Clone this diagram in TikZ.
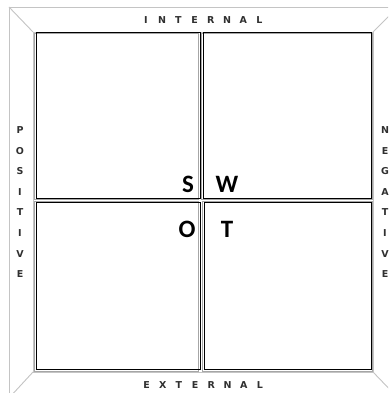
\documentclass[tikz,border=0pt]{standalone}
\usepackage{fontspec}
\newfontfamily\lblfont{DejaVu Sans}
\newfontfamily\swotfont{Carlito}
\definecolor{framegray}{HTML}{C4C4C4}
\definecolor{lblgray}{HTML}{303030}
\tikzset{
  frameline/.style={draw=framegray, line width=0.9pt},
  quadbox/.style={draw=black, line width=1pt},
  quadshadow/.style={draw=gray!70, line width=1pt},
  sidelbl/.style={font=\lblfont\bfseries\fontsize{9.5}{9.5}\selectfont, text=lblgray, inner sep=0pt},
  swotlbl/.style={font=\swotfont\bfseries\fontsize{25}{25}\selectfont, text=black, inner sep=0pt}
}
\begin{document}
\begin{tikzpicture}[x=1pt,y=-1pt]
\useasboundingbox (0,0) rectangle (388,393);
\fill[white] (0,0) rectangle (388,393);
\begin{scope}
\clip (0,0) rectangle (388,393);
% outer frame
\coordinate (o1) at (9,7);
\coordinate (o2) at (398,7);
\coordinate (o3) at (398,398);
\coordinate (o4) at (9,398);
\coordinate (i1) at (33,32);
\coordinate (i2) at (373,32);
\coordinate (i3) at (373,372);
\coordinate (i4) at (33,372);
\draw[frameline] (o1) -- (o2) -- (o3) -- (o4) -- cycle;
\draw[frameline] (i1) -- (i2) -- (i3) -- (i4) -- cycle;
\draw[frameline] (o1) -- (i1);
\draw[frameline] (o2) -- (i2);
\draw[frameline] (o3) -- (i3);
\draw[frameline] (o4) -- (i4);
\end{scope}
% quadrant boxes
\draw[quadshadow] (34.5,33.5) rectangle (198.5,199.5);
\draw[quadshadow] (201.5,33.5) rectangle (372.5,199.5);
\draw[quadshadow] (34.5,201) rectangle (198.5,371);
\draw[quadshadow] (202.5,201) rectangle (372.5,371);
\node[quadbox, minimum width=164pt, minimum height=166pt, anchor=north west, inner sep=0pt] (s) at (36,32) {};
\node[quadbox, minimum width=168pt, minimum height=166pt, anchor=north west, inner sep=0pt] (w) at (203,32) {};
\node[quadbox, minimum width=164pt, minimum height=167pt, anchor=north west, inner sep=0pt] (o) at (36,202) {};
\node[quadbox, minimum width=167pt, minimum height=167pt, anchor=north west, inner sep=0pt] (t) at (204,202) {};
% SWOT letters
\node[swotlbl] (ls) at (188,184) {S};
\node[swotlbl] (lw) at (227,184) {W};
\node[swotlbl] (lo) at (187,229) {O};
\node[swotlbl] (lt) at (227,229) {T};
% side labels
\foreach \ch [count=\i from 0] in {I,N,T,E,R,N,A,L}
  \node[sidelbl] (int\i) at ({146+16.2*\i},20) {\ch};
\foreach \ch [count=\i from 0] in {E,X,T,E,R,N,A,L}
  \node[sidelbl] (ext\i) at ({146.5+16.2*\i},385) {\ch};
\foreach \ch [count=\i from 0] in {P,O,S,I,T,I,V,E}
  \node[sidelbl] (pos\i) at (20,{130+20.6*\i}) {\ch};
\foreach \ch [count=\i from 0] in {N,E,G,A,T,I,V,E}
  \node[sidelbl] (neg\i) at (385,{130+20.6*\i}) {\ch};
\end{tikzpicture}
\end{document}
